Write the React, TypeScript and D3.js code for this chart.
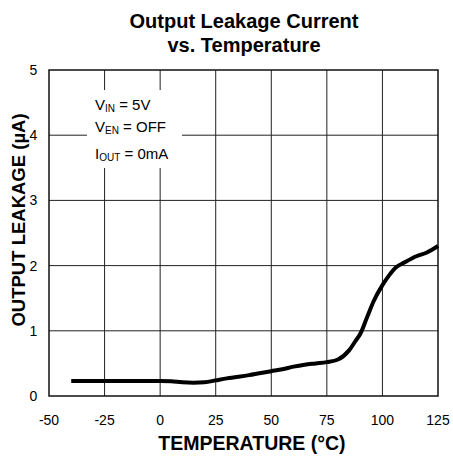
import React from 'react';
import * as d3 from 'd3';

// temperature (°C) vs output leakage (µA)
const temps = [-40, -20, 0, 5, 10, 15, 20, 25, 30, 40, 50, 55, 60, 65, 70, 75, 80, 85, 88, 90, 93, 96, 100, 103, 106, 110, 115, 120, 125];
const leakage = [0.23, 0.23, 0.23, 0.225, 0.21, 0.205, 0.21, 0.24, 0.27, 0.32, 0.38, 0.41, 0.45, 0.48, 0.5, 0.52, 0.56, 0.7, 0.85, 0.95, 1.2, 1.45, 1.7, 1.85, 1.97, 2.05, 2.14, 2.2, 2.3];
const xTicks = [-50, -25, 0, 25, 50, 75, 100, 125];
const yTicks = [0, 1, 2, 3, 4, 5];

const W = 453, H = 462;
const left = 49, right = 438, top = 70, bottom = 396;
const font = "Arial, 'Liberation Sans', sans-serif";

export default function App() {
  const x = d3.scaleLinear().domain([-50, 125]).range([left, right]);
  const y = d3.scaleLinear().domain([0, 5]).range([bottom, top]);
  const line = d3.line<number>().x((_, i) => x(temps[i])).y(d => y(d)).curve(d3.curveMonotoneX);

  return (
    <svg width={W} height={H} style={{ position: 'absolute', left: 0, top: 0 }} fontFamily={font}>
      <rect width={W} height={H} fill="#fff" />
      <text x={244} y={28} textAnchor="middle" fontWeight="bold" fontSize={20}>Output Leakage Current</text>
      <text x={244} y={52} textAnchor="middle" fontWeight="bold" fontSize={20}>vs. Temperature</text>
      {xTicks.slice(1, -1).map(t => (
        <line key={'gx' + t} x1={x(t)} x2={x(t)} y1={top} y2={bottom} stroke="#222" strokeWidth={1} />
      ))}
      {yTicks.slice(1, -1).map(t => (
        <line key={'gy' + t} x1={left} x2={right} y1={y(t)} y2={y(t)} stroke="#222" strokeWidth={1} />
      ))}
      <rect x={87} y={90} width={95} height={78} fill="#fff" />
      <g fontSize={15}>
        <text x={95} y={110}>V<tspan fontSize={10} dy={2}>IN</tspan><tspan dy={-2}>{'  = 5V'}</tspan></text>
        <text x={95} y={132}>V<tspan fontSize={10} dy={2}>EN</tspan><tspan dy={-2}>{' = OFF'}</tspan></text>
        <text x={95} y={159}>I<tspan fontSize={10} dy={2}>OUT</tspan><tspan dy={-2}>{' = 0mA'}</tspan></text>
      </g>
      <rect x={left} y={top} width={right - left} height={bottom - top} fill="none" stroke="#111" strokeWidth={1.5} />
      <path d={line(leakage) ?? ''} fill="none" stroke="#000" strokeWidth={4} strokeLinejoin="round" />
      {xTicks.map(t => (
        <text key={'xt' + t} x={x(t)} y={425} textAnchor="middle" fontSize={14}>{t}</text>
      ))}
      {yTicks.map(t => (
        <text key={'yt' + t} x={33.5} y={y(t) + 5} textAnchor="middle" fontSize={14}>{t}</text>
      ))}
      <text x={252} y={450} textAnchor="middle" fontWeight="bold" fontSize={19.5}>TEMPERATURE (°C)</text>
      <text transform={`translate(25,220) rotate(-90)`} textAnchor="middle" fontWeight="bold" fontSize={18.5}>OUTPUT LEAKAGE (µA)</text>
    </svg>
  );
}
